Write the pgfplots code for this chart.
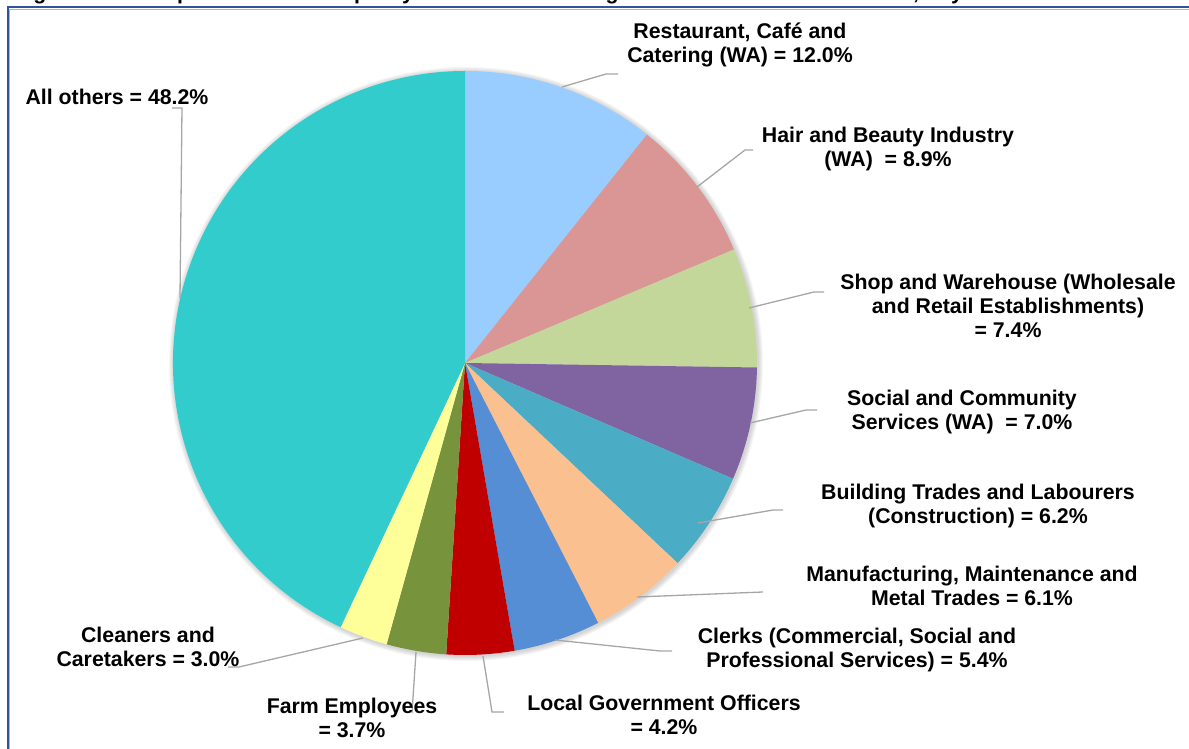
\documentclass[border=0pt]{standalone}
\usepackage{fontspec}
\setmainfont{Liberation Sans}
\usepackage{pgfplots}
\usepackage{pgfplotstable}
\pgfplotsset{compat=1.18}

\definecolor{cRest}{HTML}{99CCFF}
\definecolor{cHair}{HTML}{D99694}
\definecolor{cShop}{HTML}{C4D79B}
\definecolor{cSoc}{HTML}{8064A2}
\definecolor{cBuild}{HTML}{4BACC6}
\definecolor{cManu}{HTML}{FAC090}
\definecolor{cClerk}{HTML}{558ED5}
\definecolor{cLoc}{HTML}{C00000}
\definecolor{cFarm}{HTML}{77933C}
\definecolor{cClean}{HTML}{FFFF99}
\definecolor{cAll}{HTML}{33CCCC}
\definecolor{leader}{HTML}{A6A6A6}
\definecolor{frameDark}{HTML}{2F5597}
\definecolor{frameLight}{HTML}{9DB5E0}

\tikzset{
  lbl/.style={font=\fontsize{21.3}{24}\selectfont\bfseries, align=center, inner sep=0pt},
  ldr/.style={leader, line width=1.3pt, mark=none},
  cut/.style={font=\fontsize{21.3}{24}\selectfont\bfseries, inner sep=0pt, anchor=base},
}

% shares, clockwise from 12 o'clock
\pgfplotstableread[col sep=comma]{
val,col
12.0,cRest
8.9,cHair
7.4,cShop
7.0,cSoc
6.2,cBuild
6.1,cManu
5.4,cClerk
4.2,cLoc
3.7,cFarm
3.0,cClean
48.2,cAll
}\piedata

\begin{document}
\begin{tikzpicture}
\begin{axis}[
    x=1pt, y=1pt,
    xmin=0, xmax=1189, ymin=0, ymax=749,
    hide axis, clip=false,
]
\coordinate (BL) at (axis cs:0,0);
\coordinate (TR) at (axis cs:1189,749);

% title, cut off by the top edge (only descenders show)
\node[cut] at (axis cs:40,749.5) {g};
\node[cut, anchor=base west] at (axis cs:177,749.5) {p};
\node[cut, anchor=base west] at (axis cs:354,749.5) {p};
\node[cut] at (axis cs:408,749.5) {y};
\node[cut] at (axis cs:612,749.5) {g};
\node[cut] at (axis cs:916,749.5) {,};
\node[cut] at (axis cs:957,749.5) {y};

% frame
\addplot[frameDark, line width=2pt, mark=none] coordinates {(8,0) (8,741.5) (1189,741.5)};
\addplot[frameLight, line width=1pt, mark=none] coordinates {(9.8,0) (9.8,739.6) (1189,739.6)};

% soft shadow
\foreach \k in {1,2,3,4,5}{
  \edef\temp{\noexpand\fill[black, opacity=0.035] (axis cs:466,385) circle[radius=\the\numexpr292+\k\relax pt];}
  \temp
}

% wedges
\pgfplotstablegetrowsof{\piedata}
\pgfmathtruncatemacro{\last}{\pgfplotsretval-1}
\def\total{0}
\pgfplotsforeachungrouped \i in {0,...,\last}{
  \pgfplotstablegetelem{\i}{val}\of\piedata
  \pgfmathsetmacro{\total}{\total+\pgfplotsretval}
}
\def\cum{0}
\pgfplotsforeachungrouped \i in {0,...,\last}{
  \pgfplotstablegetelem{\i}{val}\of\piedata \let\v\pgfplotsretval
  \pgfplotstablegetelem{\i}{col}\of\piedata \let\c\pgfplotsretval
  \pgfmathsetmacro{\a}{90-360*(\cum/\total)}
  \pgfmathsetmacro{\b}{90-360*((\cum+\v)/\total)}
  \edef\temp{\noexpand\fill[\c] (axis cs:465,386) -- ++(\a:292pt) arc[start angle=\a, end angle=\b, radius=292pt] -- cycle;}
  \temp
  \pgfmathsetmacro{\cum}{\cum+\v}
}

% leader lines
\addplot[ldr] coordinates {(562,662) (606,675) (618,675)};
\addplot[ldr] coordinates {(697,562) (745,599) (753,599)};
\addplot[ldr] coordinates {(749,441) (814,457) (824,457)};
\addplot[ldr] coordinates {(750,326) (806,339) (817,339)};
\addplot[ldr] coordinates {(698,226) (773,239) (783,239)};
\addplot[ldr] coordinates {(637,152) (763,157)};
\addplot[ldr] coordinates {(555,109) (660,98) (672,98)};
\addplot[ldr] coordinates {(483,93) (492,37) (504,37)};
\addplot[ldr] coordinates {(416,97) (412,36)};
\addplot[ldr] coordinates {(363,111) (239,82) (228,82)};
\addplot[ldr] coordinates {(180,451) (182,641) (172,641)};

% labels
\node[lbl] at (axis cs:740,704) {Restaurant, Café and\\Catering (WA) = 12.0\%};
\node[lbl] at (axis cs:888,599.5) {Hair and Beauty Industry\\(WA)\ \ = 8.9\%};
\node[lbl] at (axis cs:1008,443) {Shop and Warehouse (Wholesale\\and Retail Establishments)\\= 7.4\%};
\node[lbl] at (axis cs:962,337) {Social and Community\\Services (WA)\ \ = 7.0\%};
\node[lbl] at (axis cs:978,243) {Building Trades and Labourers\\(Construction) = 6.2\%};
\node[lbl] at (axis cs:972,163.5) {Manufacturing, Maintenance and\\Metal Trades = 6.1\%};
\node[lbl] at (axis cs:857,99) {Clerks (Commercial, Social and\\Professional Services) = 5.4\%};
\node[lbl] at (axis cs:664,34) {Local Government Officers\\= 4.2\%};
\node[lbl] at (axis cs:352,31.5) {Farm Employees\\= 3.7\%};
\node[lbl] at (axis cs:148,102.5) {Cleaners and\\Caretakers = 3.0\%};
\node[lbl] at (axis cs:117,652) {All others = 48.2\%};
\end{axis}
\pgfresetboundingbox
\useasboundingbox (BL) rectangle (TR);
\end{tikzpicture}
\end{document}
